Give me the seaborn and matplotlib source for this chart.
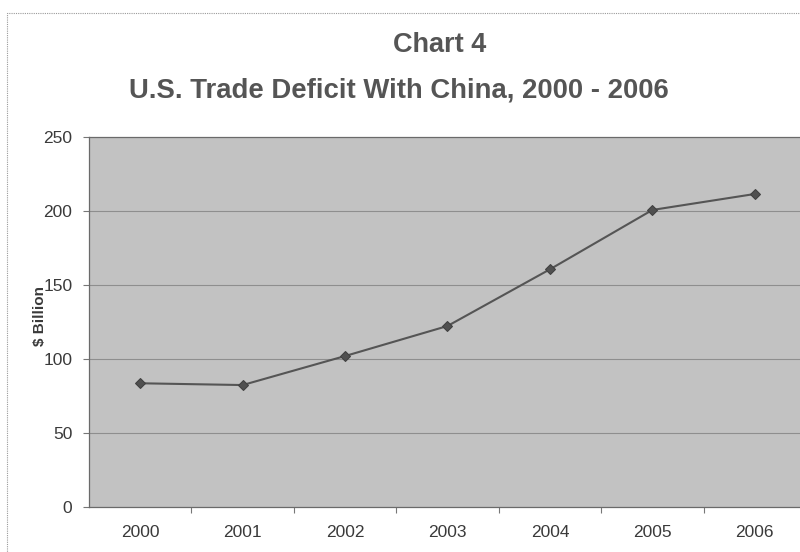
import matplotlib
matplotlib.use("Agg")
import matplotlib.pyplot as plt
from matplotlib.patches import Rectangle
import seaborn as sns
import pandas as pd

# U.S. trade deficit with China, $ billion
years = ["2000", "2001", "2002", "2003", "2004", "2005", "2006"]
deficit = [83.6, 82.4, 102.0, 122.3, 160.6, 200.7, 211.5]
y_ticks = [0, 50, 100, 150, 200, 250]

df = pd.DataFrame({"pos": range(len(years)), "deficit": deficit})

sns.set_theme(style="white")
plt.rcParams["font.family"] = ["Liberation Sans", "DejaVu Sans"]

fig = plt.figure(figsize=(8.0, 5.52), dpi=100)
ax = fig.add_axes([89 / 800, 1 - 507 / 552, (806 - 89) / 800, (507 - 137) / 552])

# thin outer frame of the chart object
fig.patches.append(Rectangle((7 / 800, -0.05), 1.2, 1 - 13 / 552 + 0.05,
                             transform=fig.transFigure, fill=False,
                             edgecolor="#9a9a9a", linewidth=0.8,
                             linestyle=(0, (1, 1))))

ax.set_facecolor("#c2c2c2")
for y in y_ticks[1:-1]:
    ax.axhline(y, color="#8e8e8e", linewidth=0.8, zorder=1)

sns.lineplot(data=df, x="pos", y="deficit", ax=ax, color="#555555",
             linewidth=1.5, marker="D", markersize=5.5,
             markerfacecolor="#505050", markeredgecolor="#404040",
             zorder=3)

ax.set_xlim(-0.5, len(years) - 0.5)
ax.set_ylim(0, 250)
ax.set_xticks(range(len(years)))
ax.set_xticklabels(years)
ax.set_xticks([i + 0.5 for i in range(len(years) - 1)], minor=True)
ax.set_yticks(y_ticks)
ax.tick_params(axis="x", which="major", length=0, pad=13,
               labelsize=12.5, labelcolor="#3a3a3a")
ax.tick_params(axis="x", which="minor", length=4, width=0.8,
               color="#777777", bottom=True)
ax.tick_params(axis="y", length=4, width=0.8, color="#777777", left=True,
               pad=8, labelsize=12.5, labelcolor="#3a3a3a")

for side in ["left", "bottom", "top"]:
    ax.spines[side].set_visible(True)
    ax.spines[side].set_color("#6a6a6a")
    ax.spines[side].set_linewidth(0.9)
ax.spines["right"].set_visible(False)

ax.set_xlabel("")
ax.set_ylabel("$ Billion", fontsize=11, fontweight="bold", color="#3a3a3a")
ax.yaxis.set_label_coords((47 - 89) / 717, (507 - 316) / 370)

fig.text(440 / 800, 1 - 45 / 552, "Chart 4", ha="center", va="center",
         fontsize=19.5, fontweight="bold", color="#555555")
fig.text(399 / 800, 1 - 91 / 552, "U.S. Trade Deficit With China, 2000 - 2006",
         ha="center", va="center", fontsize=19.8, fontweight="bold",
         color="#555555")

fig.savefig("out.png", dpi=100)
